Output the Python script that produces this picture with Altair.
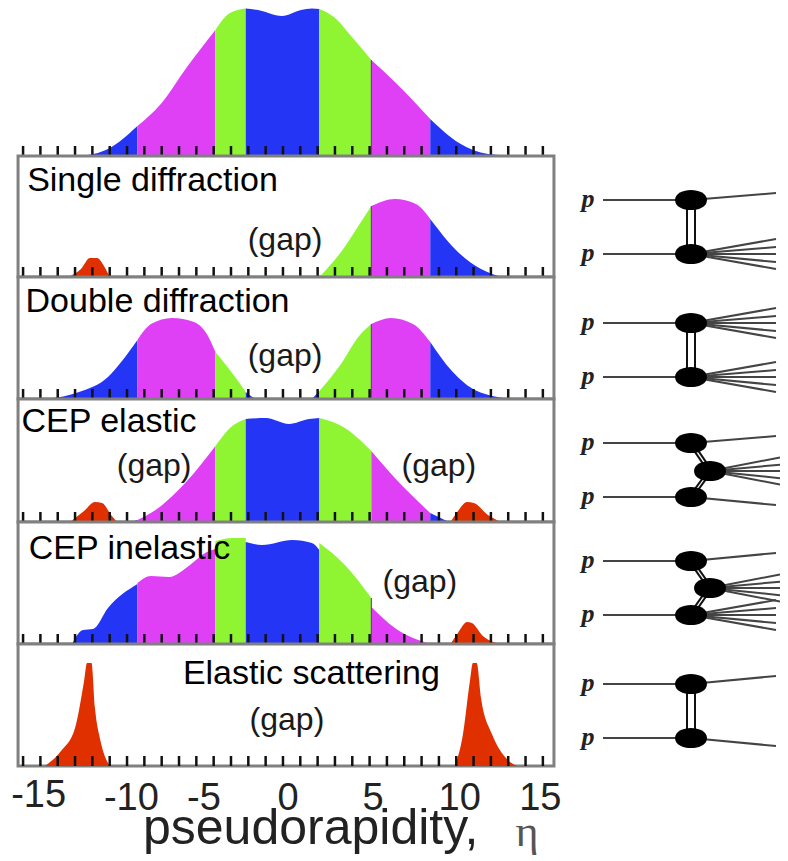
import altair as alt
import pandas as pd

BLUE, MAGENTA, GREEN, RED = "#2535f5", "#e040f5", "#8ff533", "#e03000"
edges = [-99, -8.4, -3.9, -2.15, 2.1, 5.1, 8.5, 99]
band_names = ["blue", "magenta", "green", "blue", "green", "magenta", "blue"]
ticks = list(range(-15, 16))
X_DOMAIN = [-15.87, 15.70]

# Particle density curves (pseudorapidity, height)
top_eta = [-11.66, -10.1, -8.4, -7.0, -5.54, -3.9, -3.06, -2.15, -1.44, -0.06, 1.04, 1.67, 2.1, 2.94, 3.98, 5.1, 6.46, 8.5, 10.16, 11.83, 13.7]
top_h = [0, 7, 30, 53, 89, 126, 143, 147.5, 146, 140, 146, 147.5, 147, 139, 119, 96, 74, 37, 13, 2, 0]

sd_eta = [2.1, 3.35, 4.39, 5.1, 6.46, 7.67, 8.5, 10.16, 11.43, 12.64]
sd_h = [0, 25, 52, 71, 78, 73, 58, 24, 8, 0]
sd_red_eta = [-12.4, -11.66, -11.14, -10.73, -10.33, -10.0]
sd_red_h = [0, 8, 19, 19, 11, 0]

dd_left_eta = [-13.6, -11.77, -10.1, -9.29, -8.4, -7.62, -6.4, -5.14, -4.33, -3.9, -2.89, -2.15, -1.62]
dd_left_h = [0, 7, 22, 38, 59, 75, 81, 77, 63, 47, 25, 7, 0]
dd_right_eta = [1.67, 2.1, 3.35, 4.39, 5.1, 6.23, 7.5, 8.5, 9.75, 11.2, 13.27]
dd_right_h = [0, 8, 35, 63, 75, 81, 75, 57, 28, 8, 0]

cepe_eta = [-8.77, -8.4, -7.44, -5.54, -3.9, -3.06, -2.15, -0.98, 0.35, 1.5, 2.1, 3.58, 5.1, 6.46, 8.5, 9.58]
cepe_h = [0, 2, 11, 41, 76, 94, 103, 104, 98, 103, 104, 94, 71, 44, 9, 0]
cepe_red_l_eta = [-12.29, -11.48, -10.85, -10.44, -9.92, -9.58]
cepe_red_l_h = [0, 11, 20, 19, 7, 0]
cepe_red_r_eta = [9.67, 10.1, 10.62, 11.02, 11.83, 12.58]
cepe_red_r_h = [0, 11, 20, 19, 7, 0]

cepi_eta = [-12.18, -11.54, -10.96, -10.1, -8.4, -8.4, -7.62, -6.58, -5.37, -4.5, -3.9, -3.9, -2.89, -2.15, -2.15, -1.21, 0.55, 1.67, 2.1, 2.1, 3.58, 5.1, 5.1, 6.46, 8.5]
cepi_h = [0, 14, 15, 36, 60, 61, 68, 67, 79, 91, 95, 103, 106, 106, 102, 99, 104, 101, 94, 101, 79, 46, 37, 16, 0]
cepi_red_eta = [9.67, 10.1, 10.62, 10.9, 11.54, 12.58]
cepi_red_h = [0, 11, 22, 21, 8, 0]

el_red_l_eta = [-13.73, -12.81, -12.0, -11.48, -11.31, -11.05, -10.85, -10.53, -10.0]
el_red_l_h = [0, 15, 38, 85, 103, 103, 58, 25, 0]
el_red_r_eta = [9.93, 10.39, 10.79, 10.96, 11.18, 11.43, 12.06, 12.87, 13.5]
el_red_r_h = [0, 32, 85, 103, 103, 68, 32, 8, 0]

# Height of the thin dark seam at the green/magenta boundary, per panel
seam_eta = 5.1
seam_top, seam_sd, seam_dd, seam_ci = 96, 71, 75, 46

# Panel texts: (text, eta, height)
titles_sd = [("Single diffraction", -7.53, 96), ("(gap)", 0.12, 37)]
titles_dd = [("Double diffraction", -7.24, 97), ("(gap)", 0.12, 43)]
titles_cepe = [("CEP elastic", -10.04, 100), ("(gap)", -7.44, 56), ("(gap)", 9.0, 56)]
titles_cepi = [("CEP inelastic", -8.86, 95), ("(gap)", 7.9, 62)]
titles_el = [("Elastic scattering", 1.64, 92), ("(gap)", 0.23, 46)]

label_text = ["-15", "-10", "-5", "0", "5", "10", "15"]
label_eta = [-14.1, -8.75, -4.56, 0.29, 5.2, 10.2, 14.85]
label_h = [57, 54, 54, 54, 54, 54, 54]

# Row extents on the diagram's vertical coordinate
row_top = [156, 277, 399, 522, 644]
row_bot = [277, 399, 522, 644, 766]

# Feynman-like diagrams
diag_top = [200, 323, 443, 561, 684]
diag_bot = [254, 377, 497, 615, 738]
diag_top_out = [193, None, 436, 553, 676]
diag_bot_out = [None, None, 505, None, 746]
diag_mid = [None, None, 471, 588, None]
fan = [-15, -7, 0, 8, 15]
diag_in_x, diag_vx, diag_out_x, diag_mid_x, diag_mid_out, diag_p_x = 603, 691, 776, 710, 780, 588


def segments(etas, hs, prefix):
    rows = []
    for k in range(len(edges) - 1):
        idx = [i for i, e in enumerate(etas) if edges[k] <= e <= edges[k + 1]]
        if len(idx) < 2:
            continue
        if len(idx) > 2 and etas[idx[0]] == etas[idx[1]]:
            idx = idx[1:]
        if len(idx) > 2 and etas[idx[-1]] == etas[idx[-2]]:
            idx = idx[:-1]
        for i in idx:
            rows.append(dict(eta=etas[i], h=hs[i], band=band_names[k], seg=f"{prefix}{k}"))
    return rows


def red(etas, hs, prefix):
    return [dict(eta=e, h=h, band="red", seg=prefix) for e, h in zip(etas, hs)]


def panel(rows, texts, height, frame=True, seam=None):
    x_scale = alt.Scale(domain=X_DOMAIN, nice=False, zero=False)
    y_scale = alt.Scale(domain=[0, height], nice=False, zero=False)
    x = alt.X("eta:Q", scale=x_scale, axis=None)
    y = alt.Y("h:Q", scale=y_scale, axis=None, stack=None)
    layers = []
    if frame:
        layers.append(
            alt.Chart(pd.DataFrame([dict(a=-15.29, b=15.64, lo=0, hi=height)]))
            .mark_rect(fill="white", stroke="#808080", strokeWidth=3)
            .encode(x=alt.X("a:Q", scale=x_scale, axis=None), x2="b:Q",
                    y=alt.Y("lo:Q", scale=y_scale, axis=None), y2="hi:Q")
        )
    layers.append(
        alt.Chart(pd.DataFrame(rows).assign(base=0))
        .mark_area(interpolate="monotone", clip=True)
        .encode(x=x, y=y, y2="base:Q", detail="seg:N",
                color=alt.Color("band:N", legend=None,
                                scale=alt.Scale(domain=["blue", "magenta", "green", "red"],
                                                range=[BLUE, MAGENTA, GREEN, RED])))
    )
    if seam is not None:
        layers.append(
            alt.Chart(pd.DataFrame(dict(eta=[seam_eta], lo=[0], hi=[seam])))
            .mark_rule(color="#4a3aa0", strokeWidth=1)
            .encode(x=x, y=alt.Y("lo:Q", scale=y_scale, axis=None), y2="hi:Q")
        )
    layers.append(
        alt.Chart(pd.DataFrame(dict(eta=ticks, lo=[0] * len(ticks), hi=[10] * len(ticks))))
        .mark_rule(color="#111111", strokeWidth=2.5)
        .encode(x=x, y=alt.Y("lo:Q", scale=y_scale, axis=None), y2="hi:Q")
    )
    if texts:
        tdf = pd.DataFrame(texts, columns=["t", "eta", "h"])
        layers.append(
            alt.Chart(tdf[tdf.t != "(gap)"])
            .mark_text(font="Liberation Sans", fontSize=34, color="#000000", baseline="middle")
            .encode(x=x, y=y, text="t:N")
        )
        layers.append(
            alt.Chart(tdf[tdf.t == "(gap)"])
            .mark_text(font="Liberation Sans", fontSize=32, color="#1a1a1a", baseline="middle")
            .encode(x=x, y=y, text="t:N")
        )
    return alt.layer(*layers).properties(width=547, height=height)


p_top = panel(segments(top_eta, top_h, "t"), None, 148, frame=False, seam=seam_top)
p_sd = panel(segments(sd_eta, sd_h, "s") + red(sd_red_eta, sd_red_h, "r"), titles_sd, 121, seam=seam_sd)
p_dd = panel(segments(dd_left_eta, dd_left_h, "l") + segments(dd_right_eta, dd_right_h, "q"), titles_dd, 122, seam=seam_dd)
p_ce = panel(segments(cepe_eta, cepe_h, "c") + red(cepe_red_l_eta, cepe_red_l_h, "r") + red(cepe_red_r_eta, cepe_red_r_h, "u"), titles_cepe, 123)
p_ci = panel(segments(cepi_eta, cepi_h, "c") + red(cepi_red_eta, cepi_red_h, "r"), titles_cepi, 122, seam=seam_ci)
p_el = panel(red(el_red_l_eta, el_red_l_h, "r") + red(el_red_r_eta, el_red_r_h, "u"), titles_el, 122)

# Bottom axis labels and title
AX_H = 87
ax_x = alt.Scale(domain=X_DOMAIN, nice=False, zero=False)
ax_y = alt.Scale(domain=[0, AX_H], nice=False, zero=False)
ax_df = pd.DataFrame(dict(t=label_text, eta=label_eta, h=label_h))
axis_labels = alt.Chart(ax_df).mark_text(font="Liberation Sans", fontSize=38, color="#222222", baseline="middle").encode(
    x=alt.X("eta:Q", scale=ax_x, axis=None), y=alt.Y("h:Q", scale=ax_y, axis=None), text="t:N")
axis_title = alt.Chart(pd.DataFrame(dict(t=["pseudorapidity,"], eta=[1.6], h=[24]))).mark_text(
    font="Liberation Sans", fontSize=50, color="#222222", baseline="middle").encode(
    x=alt.X("eta:Q", scale=ax_x, axis=None), y=alt.Y("h:Q", scale=ax_y, axis=None), text="t:N")
axis_eta = alt.Chart(pd.DataFrame(dict(t=["\u03b7"], eta=[14.08], h=[20]))).mark_text(
    font="Liberation Serif", fontSize=44, color="#555555", baseline="middle").encode(
    x=alt.X("eta:Q", scale=ax_x, axis=None), y=alt.Y("h:Q", scale=ax_y, axis=None), text="t:N")
p_axis = alt.layer(axis_labels, axis_title, axis_eta).properties(width=547, height=AX_H)


def diagram(n):
    thin, dbl, blobs, ptext = [], [], [], []
    t, b = diag_top[n], diag_bot[n]
    thin += [dict(x0=diag_in_x, x1=diag_vx, y0=t, y1=t), dict(x0=diag_in_x, x1=diag_vx, y0=b, y1=b)]
    ptext += [dict(x=diag_p_x, y=t - 1), dict(x=diag_p_x, y=b - 1)]
    blobs += [dict(x=diag_vx, y=t), dict(x=diag_vx, y=b)]
    if diag_top_out[n] is None:
        thin += [dict(x0=diag_vx, x1=diag_out_x, y0=t, y1=t + f) for f in fan]
    else:
        thin.append(dict(x0=diag_vx, x1=diag_out_x, y0=t, y1=diag_top_out[n]))
    if diag_bot_out[n] is None:
        thin += [dict(x0=diag_vx, x1=diag_out_x, y0=b, y1=b + f) for f in fan]
    else:
        thin.append(dict(x0=diag_vx, x1=diag_out_x, y0=b, y1=diag_bot_out[n]))
    m = diag_mid[n]
    if m is None:
        dbl += [dict(x0=diag_vx + d, x1=diag_vx + d, y0=t, y1=b) for d in (-4, 4)]
    else:
        blobs.append(dict(x=diag_mid_x, y=m))
        thin += [dict(x0=diag_mid_x, x1=diag_mid_out, y0=m, y1=m + f * 0.9) for f in fan]
        dbl += [dict(x0=diag_vx + d, x1=diag_mid_x + d, y0=t + d * 0.6, y1=m + d * 0.6) for d in (-3.5, 3.5)]
        dbl += [dict(x0=diag_vx + d, x1=diag_mid_x + d, y0=b - d * 0.6, y1=m - d * 0.6) for d in (-3.5, 3.5)]

    dx = alt.Scale(domain=[555, 780], nice=False, zero=False)
    dy = alt.Scale(domain=[row_bot[n], row_top[n]], nice=False, zero=False)

    def seg_layer(rows, color, width):
        return alt.Chart(pd.DataFrame(rows)).mark_rule(color=color, strokeWidth=width, clip=True).encode(
            x=alt.X("x0:Q", scale=dx, axis=None), x2="x1:Q",
            y=alt.Y("y0:Q", scale=dy, axis=None), y2="y1:Q")

    ellipse = "M -1 0 C -1 -0.84 1 -0.84 1 0 C 1 0.84 -1 0.84 -1 0 Z"
    blob_layer = alt.Chart(pd.DataFrame(blobs)).mark_point(
        shape=ellipse, size=1024, filled=True, color="#000000", opacity=1).encode(
        x=alt.X("x:Q", scale=dx, axis=None), y=alt.Y("y:Q", scale=dy, axis=None))
    p_layer = alt.Chart(pd.DataFrame(ptext).assign(t="p")).mark_text(
        font="Liberation Serif", fontSize=26, fontStyle="italic", fontWeight="bold", color="#222222", baseline="middle").encode(
        x=alt.X("x:Q", scale=dx, axis=None), y=alt.Y("y:Q", scale=dy, axis=None), text="t:N")
    return alt.layer(seg_layer(thin, "#444444", 2), seg_layer(dbl, "#111111", 2), blob_layer, p_layer).properties(
        width=225, height=row_bot[n] - row_top[n])


def spacer(height):
    return alt.Chart(pd.DataFrame(dict(v=[""]))).mark_text(fontSize=1).encode(
        x=alt.value(116), y=alt.value(40), text="v:N").properties(width=225, height=height)


chart = alt.concat(
    p_top, spacer(148),
    p_sd, diagram(0),
    p_dd, diagram(1),
    p_ce, diagram(2),
    p_ci, diagram(3),
    p_el, diagram(4),
    p_axis, spacer(AX_H),
    columns=2, spacing=0, bounds="flush",
).properties(padding=0, background="white").configure_view(stroke=None)
chart.save("out.html", embed_options={"renderer": "svg", "actions": False})
